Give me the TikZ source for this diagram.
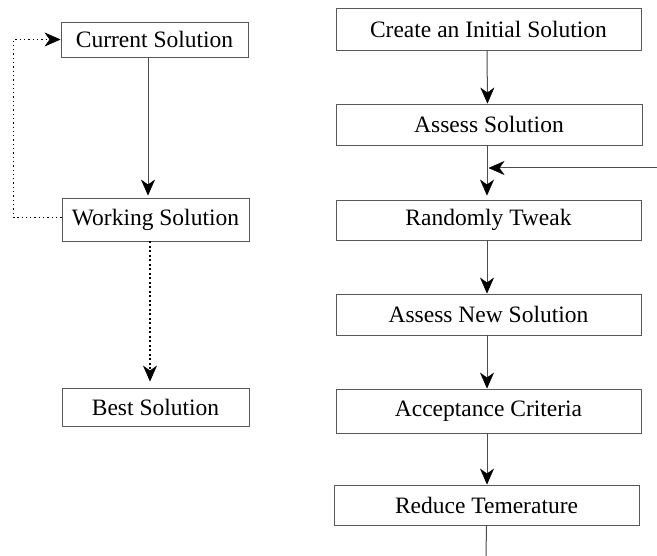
\documentclass[tikz,border=0pt]{standalone}
\usepackage{fontspec}
\setmainfont{Liberation Serif}
\usetikzlibrary{arrows.meta}
\begin{document}
\begin{tikzpicture}[x=1pt,y=-1pt,
  >={Stealth[length=16pt,width=14pt,inset=5pt,black,line width=0.5pt]},
  box/.style={draw=black!65, line width=0.9pt, inner sep=0pt, font=\fontsize{23.5}{27}\selectfont},
  arr/.style={draw=black!70, line width=1pt, ->},
  dotarr/.style={draw=black, line width=2.2pt, dash pattern=on 2pt off 2.5pt, ->},
  fbloop/.style={draw=black, line width=1.3pt, dash pattern=on 1.3pt off 3pt, ->}]
\useasboundingbox (0,0) rectangle (657,556);
\node[box, minimum width=187pt, minimum height=35pt] (cur) at (154.5,39.5) {Current Solution};
\node[box, minimum width=187pt, minimum height=43pt] (work) at (155.5,219.5) {Working Solution};
\node[box, minimum width=187pt, minimum height=38pt] (best) at (155.5,407) {Best Solution};
\node[box, minimum width=305pt, minimum height=42pt] (create) at (488.5,29) {Create an Initial Solution};
\node[box, minimum width=306pt, minimum height=41pt] (assess) at (489,124.5) {Assess Solution};
\node[box, minimum width=305pt, minimum height=40pt] (tweak) at (488.5,220) {Randomly Tweak};
\node[box, minimum width=305pt, minimum height=41pt] (anew) at (488.5,314.5) {Assess New Solution};
\node[box, minimum width=305pt, minimum height=44pt] (accept) at (488.5,411) {Acceptance Criteria};
\node[box, minimum width=305pt, minimum height=40pt] (reduce) at (486.5,505) {Reduce Temerature};
\coordinate (in) at (657,168);
\coordinate (end) at (486,556);
% left column
\draw[arr, shorten >=2pt] ([xshift=-6.5pt]cur.south) -- ([xshift=-7.5pt]work.north);
\draw[dotarr, shorten >=6pt] ([xshift=-5.5pt]work.south) -- ([xshift=-5.5pt]best.north);
\draw[fbloop] ([yshift=2pt]work.west) -- ++(-48,0) |- (cur.west);
% right column
\draw[arr] ([xshift=-1.5pt]create.south) -- ([xshift=-1.5pt]assess.north);
\draw[arr, shorten >=4pt] ([xshift=-2pt]assess.south) -- ([xshift=-1.5pt]tweak.north);
\draw[arr] (in) -- (in -| tweak.north);
\draw[arr] ([xshift=-1.5pt]tweak.south) -- ([xshift=-1.5pt]anew.north);
\draw[arr] ([xshift=-1.5pt]anew.south) -- ([xshift=-1.5pt]accept.north);
\draw[arr] ([xshift=-1.5pt]accept.south) -- ([xshift=0.5pt]reduce.north);
\draw[draw=black!70, line width=1pt] (reduce.south) -- (end);
\end{tikzpicture}
\end{document}
